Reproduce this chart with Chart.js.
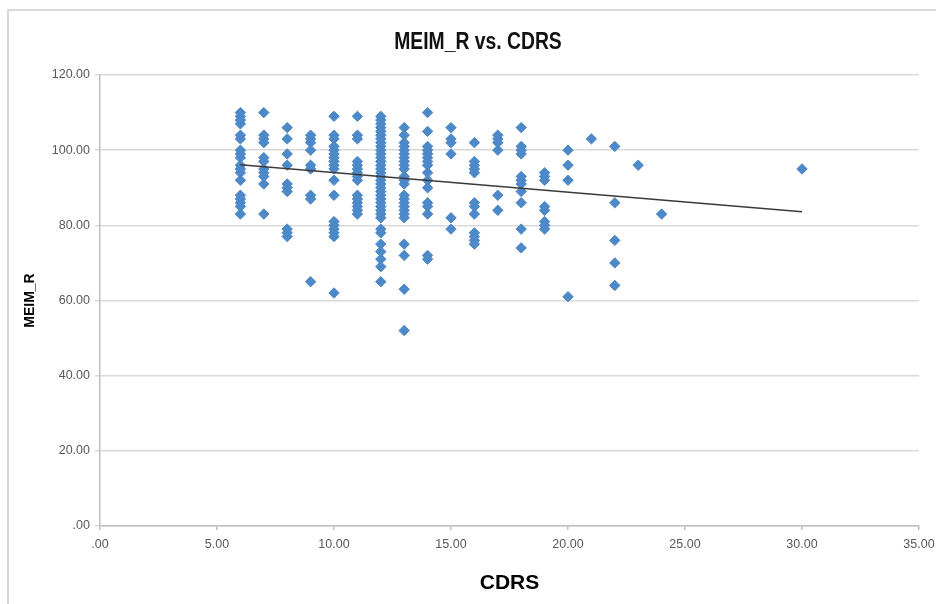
<!DOCTYPE html>
<html>
<head>
<meta charset="utf-8">
<title>MEIM_R vs. CDRS</title>
<script src="https://cdn.jsdelivr.net/npm/chart.js@4.4.1/dist/chart.umd.min.js"></script>
<style>
  html, body { margin: 0; padding: 0; background: #fff; }
  canvas { display: block; }
</style>
</head>
<body>
<canvas id="scatter" width="936" height="604"></canvas>
<script>
// CDRS score columns and the MEIM_R values seen at each one
const cdrsColumns = [6, 7, 8, 9, 10, 11, 12, 13, 14, 15, 16, 17, 18, 19, 20, 21, 22, 23, 24, 30];
const meimByColumn = [
  [110, 109, 108, 107, 104, 103, 100, 99, 98, 96, 95, 94, 92, 88, 87, 86, 85, 83],
  [110, 104, 103, 102, 98, 97, 95, 94, 93, 91, 83],
  [106, 103, 99, 96, 91, 90, 89, 79, 78, 77],
  [104, 103, 102, 100, 96, 95, 88, 87, 65],
  [109, 104, 103, 101, 100, 99, 98, 97, 96, 95, 92, 88, 81, 80, 79, 78, 77, 62],
  [109, 104, 103, 97, 96, 95, 94, 93, 92, 88, 87, 86, 85, 84, 83],
  [109, 108, 107, 106, 105, 104, 103, 102, 101, 100, 99, 98, 97, 96, 95, 94, 93, 92, 91, 90, 89, 88, 87, 86, 85, 84, 83, 82, 79, 78, 75, 73, 71, 69, 65],
  [106, 104, 102, 101, 100, 99, 98, 97, 96, 95, 93, 92, 91, 88, 87, 86, 85, 84, 83, 82, 75, 72, 63, 52],
  [110, 105, 101, 100, 99, 98, 97, 96, 94, 92, 90, 86, 85, 83, 72, 71],
  [106, 103, 102, 99, 82, 79],
  [102, 97, 96, 95, 94, 86, 85, 83, 78, 77, 76, 75],
  [104, 103, 102, 100, 88, 84],
  [106, 101, 100, 99, 93, 92, 91, 89, 86, 79, 74],
  [94, 93, 92, 85, 84, 81, 80, 79],
  [100, 96, 92, 61],
  [103],
  [101, 86, 76, 70, 64],
  [96],
  [83],
  [95]
];

// linear trendline ends
const trendX = [6, 30];
const trendY = [96.1, 83.6];

const xTickLabels = [".00", "5.00", "10.00", "15.00", "20.00", "25.00", "30.00", "35.00"];
const yTickLabels = [".00", "20.00", "40.00", "60.00", "80.00", "100.00", "120.00"];

const FONT = "'Liberation Sans', Arial, sans-serif";

const points = [];
cdrsColumns.forEach((x, i) => {
  meimByColumn[i].forEach(y => points.push({ x: x, y: y }));
});
const trendPoints = trendX.map((x, i) => ({ x: x, y: trendY[i] }));

// frame lines + chart title (drawn a bit condensed, like Calibri)
const framePlugin = {
  id: "frame",
  beforeDraw(chart) {
    const ctx = chart.ctx;
    ctx.save();
    ctx.fillStyle = "#fff";
    ctx.fillRect(0, 0, chart.width, chart.height);
    ctx.strokeStyle = "#d9d9d9";
    ctx.lineWidth = 2;
    ctx.beginPath();
    ctx.moveTo(8, chart.height);
    ctx.lineTo(8, 10);
    ctx.lineTo(chart.width, 10);
    ctx.stroke();
    ctx.restore();
  },
  afterDraw(chart) {
    const ctx = chart.ctx;
    ctx.save();
    ctx.translate(478, 43);
    ctx.scale(0.84, 1);
    ctx.font = "bold 23px " + FONT;
    ctx.fillStyle = "#111";
    ctx.textAlign = "center";
    ctx.textBaseline = "middle";
    ctx.fillText("MEIM_R vs. CDRS", 0, 0);
    ctx.restore();
  }
};

new Chart(document.getElementById("scatter"), {
  type: "scatter",
  data: {
    datasets: [
      {
        type: "line",
        label: "Linear (MEIM_R)",
        data: trendPoints,
        borderColor: "#3a3a3a",
        borderWidth: 1.5,
        pointRadius: 0,
        fill: false,
        order: 0
      },
      {
        label: "MEIM_R",
        data: points,
        pointStyle: "rectRot",
        pointRadius: 5.2,
        backgroundColor: "#4d89c8",
        borderColor: "#4d89c8",
        borderWidth: 1,
        order: 1
      }
    ]
  },
  options: {
    responsive: false,
    animation: false,
    layout: { padding: { top: 75, right: 17, left: 0, bottom: 0 } },
    plugins: {
      legend: { display: false },
      tooltip: { enabled: false }
    },
    scales: {
      x: {
        type: "linear",
        min: 0,
        max: 35,
        afterFit: s => {
          s.height = 78;
          s.paddingLeft = 0;
          s.paddingRight = 0;
        },
        ticks: {
          stepSize: 5,
          padding: 7,
          maxRotation: 0,
          color: "#595959",
          font: { family: FONT, size: 12.5 },
          callback: (v, i) => xTickLabels[i]
        },
        grid: { drawOnChartArea: false, tickLength: 4, color: "#bfbfbf", lineWidth: 1.5 },
        border: { color: "#bfbfbf", width: 1.5 },
        title: {
          display: true,
          text: "CDRS",
          color: "#000",
          font: { family: FONT, size: 21, weight: "bold" },
          padding: { top: 0, bottom: 8 }
        }
      },
      y: {
        min: 0,
        max: 120,
        afterFit: s => { s.width = 100; },
        ticks: {
          stepSize: 20,
          padding: 5,
          color: "#595959",
          font: { family: FONT, size: 12.5 },
          callback: (v, i) => yTickLabels[i]
        },
        grid: { color: "#d9d9d9", lineWidth: 1.5, tickLength: 5 },
        border: { color: "#bfbfbf", width: 1.5 },
        title: {
          display: true,
          text: "MEIM_R",
          color: "#000",
          font: { family: FONT, size: 14, weight: "bold" },
          padding: { top: 22, bottom: 0 }
        }
      }
    }
  },
  plugins: [framePlugin]
});
</script>
</body>
</html>
